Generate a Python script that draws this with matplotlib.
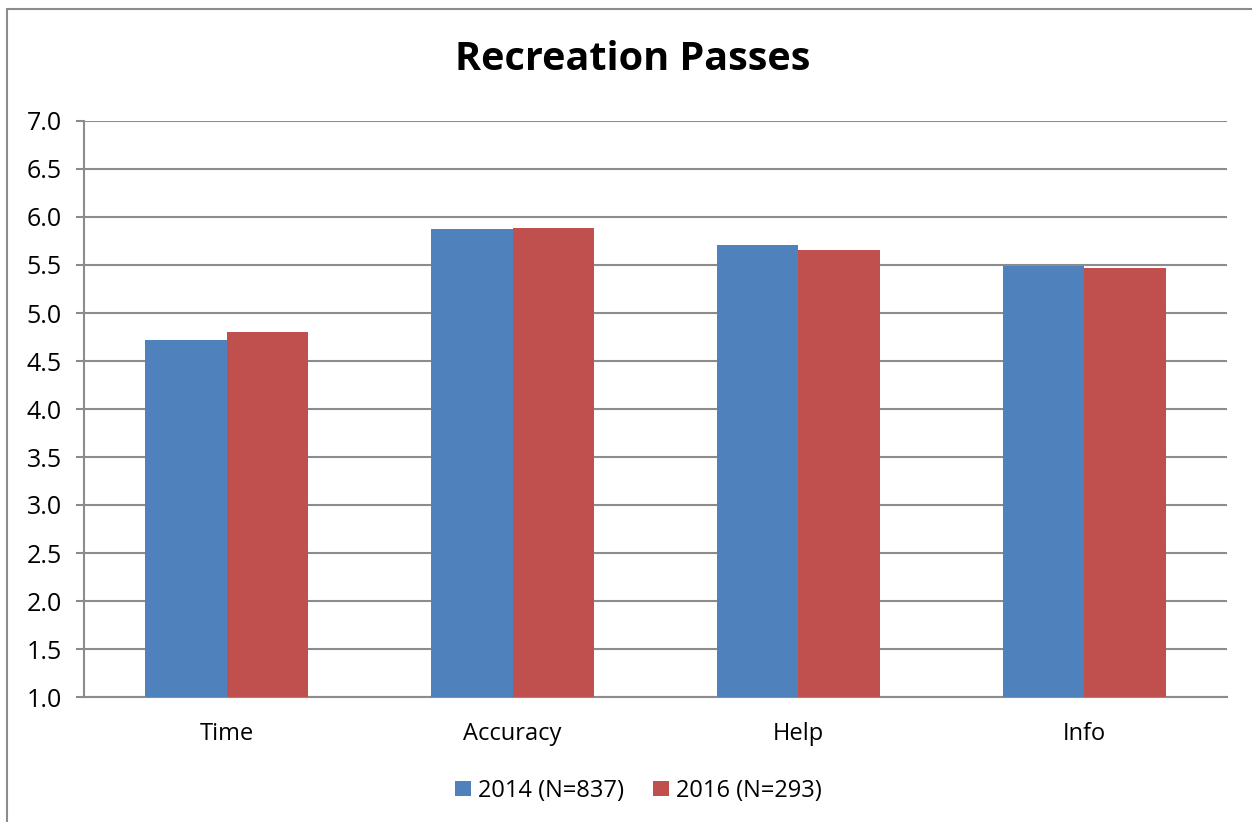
import numpy as np
import matplotlib.pyplot as plt
from matplotlib.patches import Rectangle

categories = ['Time', 'Accuracy', 'Help', 'Info']
vals_2014 = [4.72, 5.88, 5.71, 5.49]
vals_2016 = [4.80, 5.89, 5.66, 5.47]
labels = ['2014 (N=837)', '2016 (N=293)']
yticks = [1.0, 1.5, 2.0, 2.5, 3.0, 3.5, 4.0, 4.5, 5.0, 5.5, 6.0, 6.5, 7.0]

plt.rcParams['font.family'] = ['Open Sans', 'DejaVu Sans']
blue = '#4f81bd'
red = '#c0504d'
grey = '#8c8c8c'

fig = plt.figure(figsize=(12.52, 8.22), dpi=100)
ax = fig.add_axes([84/1252, 1-697/822, (1227-84)/1252, (697-121)/822])

# outer chart frame
fig.patches.append(Rectangle((7/1252, -0.1), 1.2, 1-9/822+0.1,
                             transform=fig.transFigure, fill=False,
                             edgecolor=grey, linewidth=1.5))

x = np.arange(len(categories))
w = 0.285
ax.bar(x - w/2, np.array(vals_2014) - 1.0, w, bottom=1.0, color=blue,
       label=labels[0], zorder=3)
ax.bar(x + w/2, np.array(vals_2016) - 1.0, w, bottom=1.0, color=red,
       label=labels[1], zorder=3)

ax.set_xlim(-0.5, len(categories) - 0.5)
ax.set_ylim(1.0, 7.0)
ax.set_yticks(yticks)
ax.set_yticklabels(['{0:.1f}'.format(t) for t in yticks], fontsize=18)
ax.set_xticks(x)
ax.set_xticklabels(categories, fontsize=17)
ax.tick_params(axis='x', length=0, pad=18)
ax.tick_params(axis='y', length=6, width=1.5, color=grey, pad=10)
ax.grid(axis='y', color=grey, linewidth=1.5, zorder=0)
for s in ['top', 'right']:
    ax.spines[s].set_visible(False)
for s in ['left', 'bottom']:
    ax.spines[s].set_color(grey)
    ax.spines[s].set_linewidth(1.5)

fig.text(633/1252, 1-60/822, 'Recreation Passes', ha='center', va='center',
         fontsize=28.5, fontweight='bold')

ax.legend(loc='center', bbox_to_anchor=(0.485, -0.163), ncol=2, frameon=False,
          fontsize=17, handlelength=0.65, handleheight=0.65, handletextpad=0.3,
          columnspacing=1.25)

plt.savefig('out.png', dpi=100)
plt.close()
